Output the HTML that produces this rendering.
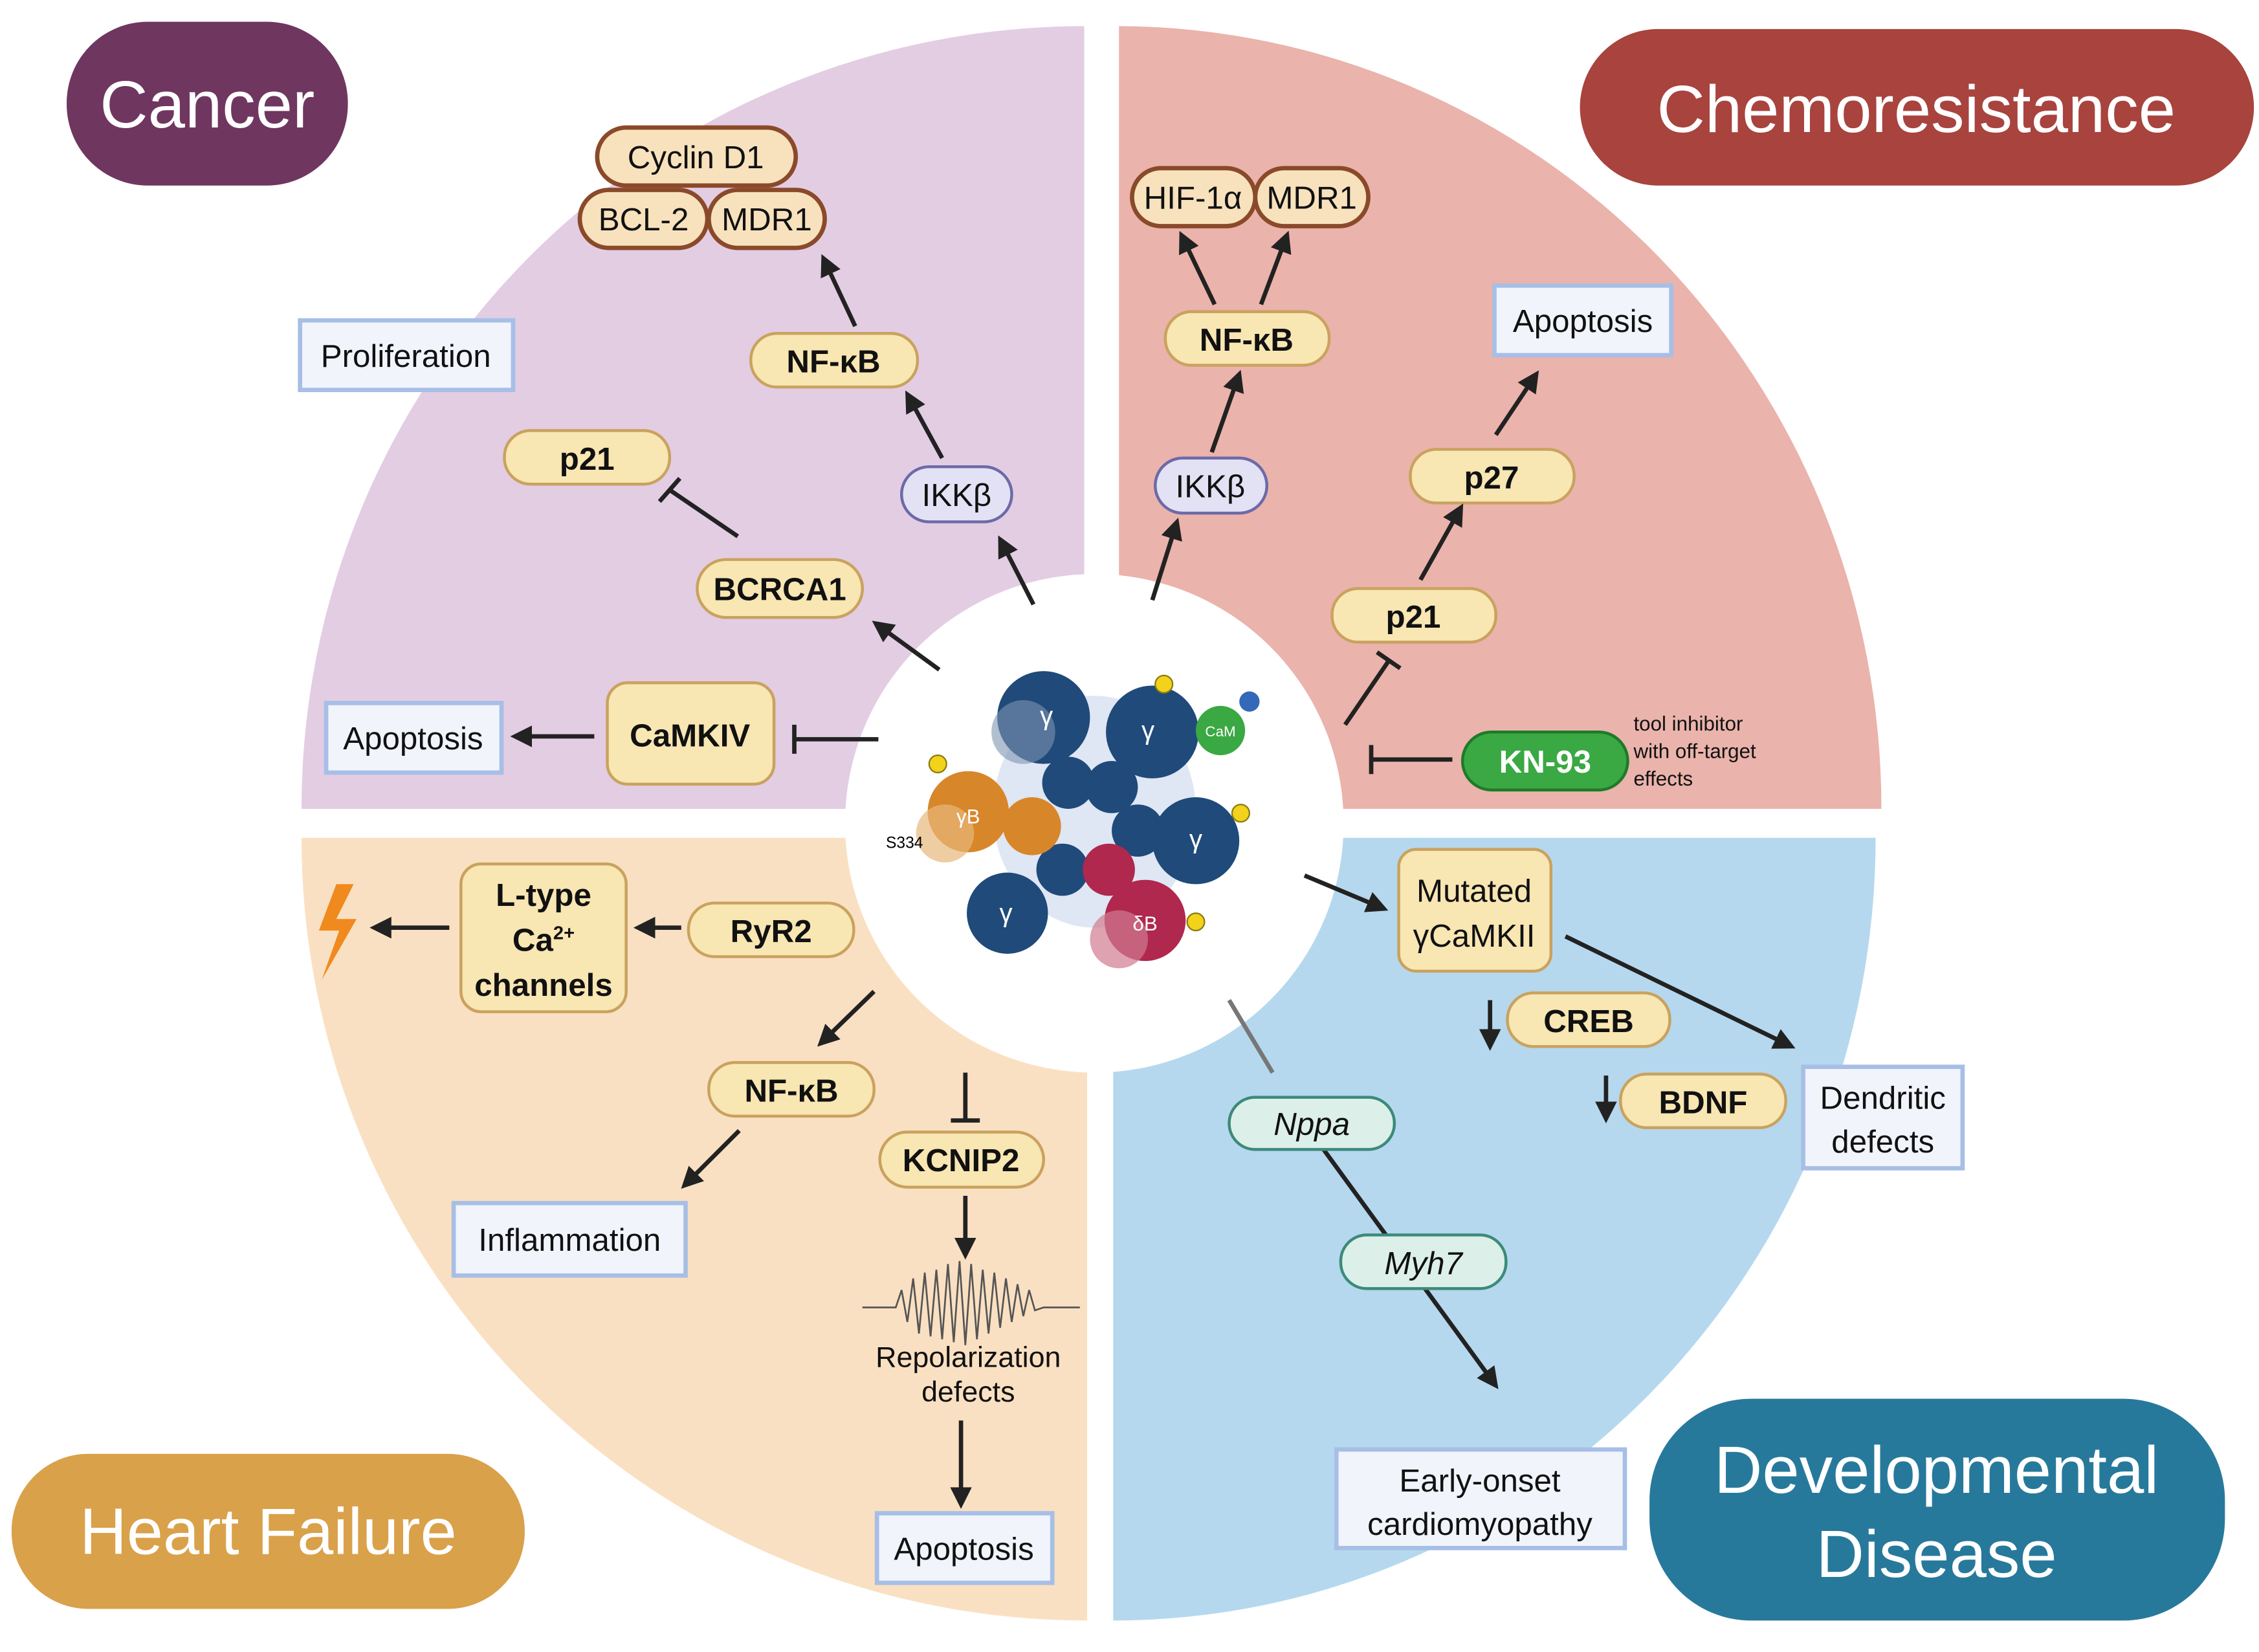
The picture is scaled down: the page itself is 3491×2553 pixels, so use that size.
<!DOCTYPE html>
<html><head><meta charset="utf-8"><style>
html,body{margin:0;padding:0;background:#fff}
svg{display:block}
text{font-family:"Liberation Sans",sans-serif}
</style></head><body>
<svg width="3491" height="2553" viewBox="0 0 1558.5 1139.7" xmlns="http://www.w3.org/2000/svg">
<defs>
<marker id="ah" viewBox="0 0 10 10" refX="8" refY="5" markerWidth="5" markerHeight="5" orient="auto"><path d="M0,0L10,5L0,10z" fill="#222"/></marker>
</defs>
<rect width="1558.5" height="1139.7" fill="#fff"/>
<path d="M748,558 L208,558 A540,540 0 0 1 748,18 Z" fill="#e3cde3"/>
<path d="M772,558 L772,18 A528,540 0 0 1 1298,558 Z" fill="#eab3ab"/>
<path d="M750,578 L750,1118 A542,540 0 0 1 208,578 Z" fill="#fae0c2"/>
<path d="M768,578 L1294,578 A526,540 0 0 1 768,1118 Z" fill="#b5d8ee"/>
<circle cx="755" cy="568" r="172" fill="#fff"/>

<rect x="46" y="15" width="194" height="113" rx="56" fill="#6f3660"/>
<text x="143" y="88" font-size="46" fill="#fff" text-anchor="middle">Cancer</text>
<rect x="1090" y="20" width="465" height="108" rx="54" fill="#a8433e"/>
<text x="1322" y="91" font-size="46" fill="#fff" text-anchor="middle">Chemoresistance</text>
<rect x="8" y="1003" width="354" height="107" rx="53" fill="#d9a14a"/>
<text x="185" y="1072" font-size="45" fill="#fff" text-anchor="middle">Heart Failure</text>
<rect x="1138" y="965" width="397" height="153" rx="70" fill="#27799b"/>
<text x="1336" y="1030" font-size="46" fill="#fff" text-anchor="middle">Developmental</text>
<text x="1336" y="1088" font-size="46" fill="#fff" text-anchor="middle">Disease</text>

<!-- Nppa/Myh7 line behind nodes -->
<path d="M848,690 L878,740" stroke="#777" stroke-width="3"/>
<path d="M900,775 L1032,956" stroke="#222" stroke-width="3" fill="none" marker-end="url(#ah)"/>

<g font-size="22" text-anchor="middle" fill="#111">
<g fill="#f7e2bd" stroke="#8a4a2a" stroke-width="3">
<rect x="412" y="88" width="137" height="40" rx="20"/>
<rect x="400" y="131" width="88" height="40" rx="20"/>
<rect x="489" y="131" width="80" height="40" rx="20"/>
<rect x="781" y="116" width="85" height="40" rx="20"/>
<rect x="866" y="116" width="78" height="40" rx="20"/>
</g>
<text x="480" y="116">Cyclin D1</text>
<text x="444" y="159">BCL-2</text>
<text x="529" y="159">MDR1</text>
<text x="823" y="144">HIF-1α</text>
<text x="905" y="144">MDR1</text>

<g fill="#f8e6b3" stroke="#c9a25e" stroke-width="2">
<rect x="518" y="230" width="115" height="37" rx="18"/>
<rect x="348" y="297" width="114" height="37" rx="18"/>
<rect x="481" y="386" width="114" height="40" rx="20"/>
<rect x="419" y="471" width="115" height="70" rx="14"/>
<rect x="804" y="215" width="113" height="37" rx="18"/>
<rect x="973" y="310" width="113" height="37" rx="18"/>
<rect x="919" y="406" width="113" height="37" rx="18"/>
<rect x="318" y="596" width="114" height="102" rx="14"/>
<rect x="475" y="623" width="114" height="37" rx="18"/>
<rect x="489" y="733" width="114" height="37" rx="18"/>
<rect x="607" y="781" width="113" height="38" rx="19"/>
<rect x="965" y="586" width="105" height="84" rx="12"/>
<rect x="1040" y="685" width="112" height="37" rx="18"/>
<rect x="1118" y="741" width="114" height="37" rx="18"/>
</g>
<g font-weight="bold">
<text x="575" y="257">NF-κB</text>
<text x="405" y="324">p21</text>
<text x="538" y="414">BCRCA1</text>
<text x="476" y="515">CaMKIV</text>
<text x="860" y="242">NF-κB</text>
<text x="1029" y="337">p27</text>
<text x="975" y="433">p21</text>
<text x="375" y="625">L-type</text>
<text x="375" y="656">Ca<tspan font-size="13" dy="-8">2+</tspan></text>
<text x="375" y="687">channels</text>
<text x="532" y="650">RyR2</text>
<text x="546" y="760">NF-κB</text>
<text x="663" y="808">KCNIP2</text>
<text x="1096" y="712">CREB</text>
<text x="1175" y="768">BDNF</text>
</g>
<text x="1017" y="622">Mutated</text>
<text x="1017" y="653">γCaMKII</text>

<g fill="#e3e2f5" stroke="#6c6aa8" stroke-width="2">
<rect x="622" y="322" width="76" height="38" rx="19"/>
<rect x="797" y="316" width="77" height="38" rx="19"/>
</g>
<text x="660" y="349">IKKβ</text>
<text x="835" y="343">IKKβ</text>

<rect x="1009" y="505" width="114" height="40" rx="20" fill="#3aa843" stroke="#1f7a2a" stroke-width="2"/>
<text x="1066" y="533" fill="#fff" font-weight="bold">KN-93</text>
<g font-size="14" text-anchor="start">
<text x="1127" y="504">tool inhibitor</text>
<text x="1127" y="523">with off-target</text>
<text x="1127" y="542">effects</text>
</g>

<g fill="#dcefe9" stroke="#3c8a7a" stroke-width="2">
<rect x="848" y="757" width="114" height="36" rx="18"/>
<rect x="925" y="852" width="114" height="37" rx="18"/>
</g>
<text x="905" y="783" font-style="italic">Nppa</text>
<text x="982" y="879" font-style="italic">Myh7</text>

<g fill="#f1f4fb" stroke="#a7bfe6" stroke-width="3">
<rect x="207" y="221" width="147" height="48"/>
<rect x="225" y="485" width="121" height="48"/>
<rect x="1031" y="197" width="122" height="48"/>
<rect x="313" y="830" width="160" height="50"/>
<rect x="605" y="1044" width="121" height="48"/>
<rect x="1244" y="736" width="110" height="70"/>
<rect x="922" y="1000" width="199" height="68"/>
</g>
<text x="280" y="253">Proliferation</text>
<text x="285" y="517">Apoptosis</text>
<text x="1092" y="229">Apoptosis</text>
<text x="393" y="863">Inflammation</text>
<text x="665" y="1076">Apoptosis</text>
<text x="1299" y="765">Dendritic</text>
<text x="1299" y="795">defects</text>
<text x="1021" y="1029">Early-onset</text>
<text x="1021" y="1059">cardiomyopathy</text>
<text x="668" y="943" font-size="20">Repolarization</text>
<text x="668" y="967" font-size="20">defects</text>
</g>

<g stroke="#222" stroke-width="3" fill="none" marker-end="url(#ah)">
<path d="M590,225 L568,178"/>
<path d="M650,316 L626,272"/>
<path d="M713,417 L690,372"/>
<path d="M648,462 L604,430"/>
<path d="M410,508 L355,508"/>
<path d="M838,210 L815,162"/>
<path d="M870,210 L888,162"/>
<path d="M836,312 L855,258"/>
<path d="M795,414 L812,360"/>
<path d="M1032,300 L1060,258"/>
<path d="M980,400 L1008,350"/>
<path d="M310,640 L258,640"/>
<path d="M470,640 L440,640"/>
<path d="M603,684 L566,720"/>
<path d="M510,780 L472,818"/>
<path d="M666,825 L666,866"/>
<path d="M663,980 L663,1038"/>
<path d="M900,604 L955,627"/>
<path d="M1080,646 L1236,722"/>
<path d="M1028,690 L1028,722"/>
<path d="M1108,742 L1108,772"/>
</g>
<g stroke="#222" stroke-width="3" fill="none">
<path d="M509,370 L462,338 M455,346 L469,330"/>
<path d="M606,510 L548,510 M548,500 L548,520"/>
<path d="M928,500 L958,456 M950,450 L966,461"/>
<path d="M1002,524 L946,524 M946,514 L946,534"/>
<path d="M666,740 L666,773 M656,773 L676,773"/>
</g>
<path d="M232,610 L220,642 L234,642 L222,676 L246,634 L232,634 L244,610Z" fill="#f08a1e"/>
<path d="M595,902 L618,902 L622,890 L626,912 L630,882 L634,920 L638,878 L642,922 L646,876 L650,924 L654,872 L658,926 L662,870 L666,928 L670,872 L674,924 L678,876 L682,920 L686,878 L690,916 L694,882 L698,912 L702,886 L706,908 L710,890 L714,904 L720,902 L745,902" stroke="#555" stroke-width="1.2" fill="none"/>

<g>
<ellipse cx="755" cy="560" rx="70" ry="80" fill="#c9d6ec" opacity="0.6"/>
<circle cx="720" cy="495" r="32" fill="#1f4a7a"/><circle cx="706" cy="505" r="22" fill="#7f95b3" opacity="0.6"/>
<circle cx="795" cy="505" r="32" fill="#1f4a7a"/>
<circle cx="737" cy="540" r="18" fill="#1f4a7a"/><circle cx="767" cy="543" r="18" fill="#1f4a7a"/>
<circle cx="785" cy="573" r="18" fill="#1f4a7a"/>
<circle cx="825" cy="580" r="30" fill="#1f4a7a"/>
<circle cx="733" cy="600" r="18" fill="#1f4a7a"/>
<circle cx="695" cy="630" r="28" fill="#1f4a7a"/>
<circle cx="765" cy="600" r="18" fill="#b0284d"/>
<circle cx="790" cy="635" r="28" fill="#b0284d"/><circle cx="772" cy="648" r="20" fill="#d07a8e" opacity="0.7"/>
<circle cx="668" cy="560" r="28" fill="#d8862a"/><circle cx="652" cy="575" r="20" fill="#e8b87a" opacity="0.7"/>
<circle cx="712" cy="570" r="20" fill="#d8862a"/>
<circle cx="842" cy="504" r="17" fill="#3aa843"/>
<circle cx="862" cy="484" r="7" fill="#3468b8"/>
<g fill="#f2d21a" stroke="#8a7a10" stroke-width="1"><circle cx="803" cy="472" r="6"/><circle cx="647" cy="527" r="6"/><circle cx="856" cy="561" r="6"/><circle cx="825" cy="636" r="6"/></g>
<g fill="#fff" font-size="18" text-anchor="middle"><text x="722" y="500">γ</text><text x="792" y="510">γ</text><text x="825" y="585">γ</text><text x="694" y="636">γ</text><text x="668" y="568" font-size="14">γB</text><text x="790" y="642" font-size="14">δB</text><text x="842" y="508" font-size="10">CaM</text></g>
<text x="624" y="585" font-size="11" text-anchor="middle">S334</text>
</g>
</svg>
</body></html>
